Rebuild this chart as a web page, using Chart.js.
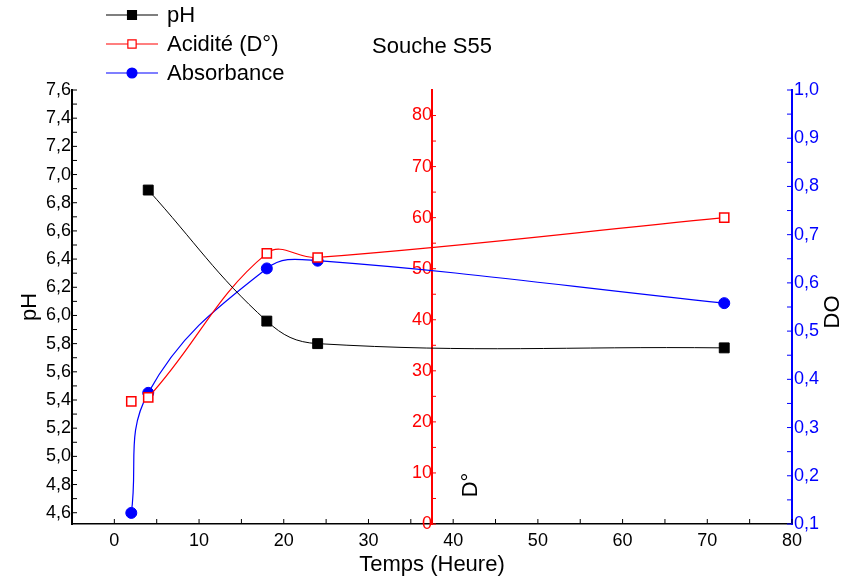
<!DOCTYPE html>
<html>
<head>
<meta charset="utf-8">
<script src="https://cdn.jsdelivr.net/npm/chart.js@4.4.1/dist/chart.umd.min.js"></script>
<style>
  body { margin: 0; background: #fff; }
</style>
</head>
<body>
<canvas id="chart" width="843" height="582"></canvas>
<script>
// values
var hours = [2, 4, 18, 24, 72];
var phHours = [4, 18, 24, 72];
var phValues = [6.89, 5.96, 5.80, 5.77];
var acidValues = [24.0, 24.8, 53.0, 52.2, 60.0];
var absorbanceValues = [0.123, 0.372, 0.630, 0.646, 0.558];

var chartTitle = 'Souche S55';
var xTitle = 'Temps (Heure)';
var phTitle = 'pH';
var acidTitle = 'D°';
var doTitle = 'DO';
var seriesNames = ['pH', 'Acidité (D°)', 'Absorbance'];

var FONT = '"Liberation Sans", Arial, sans-serif';
var acidAxisAt = 37.5;

function toPoints(xs, ys) {
    return xs.map((x, i) => ({x: x, y: ys[i]}));
}

function comma(v) {
    return v.toFixed(1).replace('.', ',');
}

// small inward ticks, major + half step, like the original plot
function innerTicks(ctx, scale, pos, dir, len) {
    var vals = scale.ticks.map(t => t.value);
    var all = [];
    vals.forEach((v, i) => {
        all.push(v);
        if (i < vals.length - 1) all.push((v + vals[i + 1]) / 2);
    });
    ctx.beginPath();
    all.forEach((v) => {
        var p = scale.getPixelForValue(v);
        if (scale.isHorizontal()) {
            ctx.moveTo(p, pos);
            ctx.lineTo(p, pos + dir * len);
        } else {
            ctx.moveTo(pos, p);
            ctx.lineTo(pos + dir * len, p);
        }
    });
    ctx.stroke();
}

var extras = {
    id: 'extras',
    afterDraw(chart) {
        var ctx = chart.ctx;
        var s = chart.scales;
        var area = chart.chartArea;
        ctx.save();
        ctx.lineWidth = 1;
        ctx.strokeStyle = '#000';
        innerTicks(ctx, s.x, area.bottom, -1, 5);
        innerTicks(ctx, s.y, area.left, 1, 5);
        ctx.strokeStyle = '#ff0000';
        innerTicks(ctx, s.acid, s.x.getPixelForValue(acidAxisAt), 1, 4);
        ctx.strokeStyle = '#0000ff';
        innerTicks(ctx, s.abs, area.right, -1, 5);

        // rotated titles
        ctx.fillStyle = '#000';
        ctx.font = '22px ' + FONT;
        ctx.textAlign = 'center';
        ctx.textBaseline = 'middle';
        ctx.save();
        ctx.translate(s.x.getPixelForValue(acidAxisAt) + 39, area.bottom - 39);
        ctx.rotate(-Math.PI / 2);
        ctx.fillText(acidTitle, 0, 0);
        ctx.restore();
        ctx.save();
        ctx.translate(833, (area.top + area.bottom) / 2 + 5);
        ctx.rotate(-Math.PI / 2);
        ctx.fillText(doTitle, 0, 0);
        ctx.restore();

        // legend, top left
        ctx.textAlign = 'left';
        chart.data.datasets.forEach((ds, i) => {
            var y = 15 + i * 29;
            ctx.strokeStyle = ds.borderColor;
            ctx.lineWidth = 1.2;
            ctx.beginPath();
            ctx.moveTo(106, y);
            ctx.lineTo(158, y);
            ctx.stroke();
            ctx.fillStyle = ds.pointBackgroundColor;
            ctx.strokeStyle = ds.pointBorderColor;
            Chart.helpers.drawPoint(ctx, {
                pointStyle: ds.pointStyle,
                radius: ds.pointRadius * 0.9,
                borderWidth: ds.pointBorderWidth,
                rotation: 0
            }, 132, y);
            ctx.fillStyle = '#000';
            ctx.fillText(ds.label, 167, y + 1);
        });
        ctx.restore();
    }
};

var ctx = document.getElementById('chart');
new Chart(ctx, {
    type: 'line',
    data: {
        datasets: [{
            label: seriesNames[0],
            data: toPoints(phHours, phValues),
            yAxisID: 'y',
            borderColor: '#000000',
            borderWidth: 1,
            pointStyle: 'rect',
            pointRadius: 7,
            pointBackgroundColor: '#000000',
            pointBorderColor: '#000000',
            pointBorderWidth: 1,
            tension: 0.4,
            clip: false
        }, {
            label: seriesNames[1],
            data: toPoints(hours, acidValues),
            yAxisID: 'acid',
            borderColor: '#ff0000',
            borderWidth: 1.2,
            pointStyle: 'rect',
            pointRadius: 6.5,
            pointBackgroundColor: '#ffffff',
            pointBorderColor: '#ff0000',
            pointBorderWidth: 1.5,
            tension: 0.4,
            clip: false,
            segment: {
                borderColor: (c) => c.p0DataIndex === 0 ? 'rgba(0,0,0,0)' : '#ff0000'
            }
        }, {
            label: seriesNames[2],
            data: toPoints(hours, absorbanceValues),
            yAxisID: 'abs',
            borderColor: '#0000ff',
            borderWidth: 1.2,
            pointStyle: 'circle',
            pointRadius: 5.5,
            pointBackgroundColor: '#0000ff',
            pointBorderColor: '#0000ff',
            pointBorderWidth: 1,
            tension: 0.4,
            clip: false
        }]
    },
    options: {
        responsive: false,
        animation: false,
        layout: { padding: 0 },
        plugins: {
            legend: { display: false },
            tooltip: { enabled: false },
            title: {
                display: true,
                text: chartTitle,
                fullSize: false,
                color: '#000',
                font: { family: FONT, size: 22, weight: 'normal' },
                padding: { top: 34, bottom: 29.6 }
            }
        },
        scales: {
            x: {
                type: 'linear',
                position: 'bottom',
                min: -5,
                max: 80,
                grid: { display: false, drawTicks: false },
                border: { display: true, color: '#000', width: 1.5 },
                ticks: {
                    stepSize: 10,
                    includeBounds: false,
                    autoSkip: false,
                    maxRotation: 0,
                    padding: 6,
                    color: '#000',
                    font: { family: FONT, size: 18 }
                },
                title: {
                    display: true,
                    text: xTitle,
                    color: '#000',
                    font: { family: FONT, size: 22 },
                    padding: { top: 0, bottom: 4 }
                },
                afterFit: (scale) => { scale.height = 58; }
            },
            y: {
                type: 'linear',
                position: 'left',
                min: 4.52,
                max: 7.6,
                grid: { display: false, drawTicks: false },
                border: { display: true, color: '#000', width: 2 },
                ticks: {
                    stepSize: 0.2,
                    includeBounds: false,
                    autoSkip: false,
                    padding: 1,
                    color: '#000',
                    font: { family: FONT, size: 18 },
                    callback: (v) => comma(v)
                },
                title: {
                    display: true,
                    text: phTitle,
                    color: '#000',
                    font: { family: FONT, size: 22 },
                    padding: { top: 17, bottom: 0 }
                },
                afterFit: (scale) => { scale.width = 72; }
            },
            acid: {
                type: 'linear',
                position: { x: acidAxisAt },
                min: 0,
                max: 85,
                grid: { display: false, drawTicks: false },
                border: { display: true, color: '#ff0000', width: 2 },
                ticks: {
                    stepSize: 10,
                    includeBounds: false,
                    autoSkip: false,
                    padding: 0,
                    color: '#ff0000',
                    font: { family: FONT, size: 18 }
                }
            },
            abs: {
                type: 'linear',
                position: 'right',
                min: 0.1,
                max: 1.0,
                grid: { display: false, drawTicks: false },
                border: { display: true, color: '#0000ff', width: 2 },
                ticks: {
                    stepSize: 0.1,
                    includeBounds: false,
                    autoSkip: false,
                    padding: 2,
                    color: '#0000ff',
                    font: { family: FONT, size: 18 },
                    callback: (v) => comma(v)
                },
                afterFit: (scale) => { scale.width = 51; }
            }
        }
    },
    plugins: [extras]
});
</script>
</body>
</html>
